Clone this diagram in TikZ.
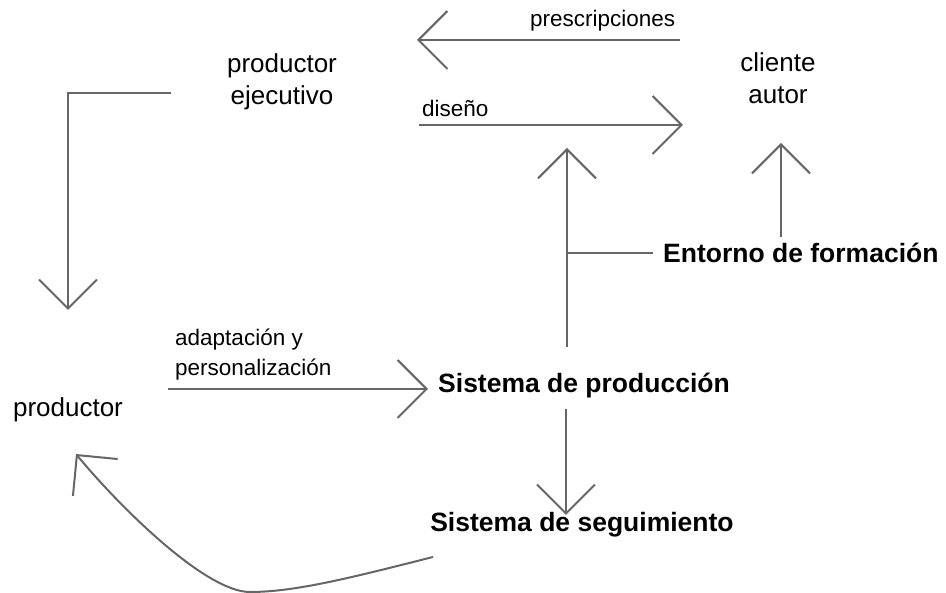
\documentclass[tikz,border=0pt]{standalone}
\usepackage{fontspec}
\setmainfont{Liberation Sans}
\usepackage{tikz}
\usetikzlibrary{arrows.meta}
\usepackage{xcolor}
\definecolor{linegray}{RGB}{102,102,102}

\begin{document}
\begin{tikzpicture}[x=1pt,y=1pt,
  flow/.style={draw=linegray, line width=2pt, -{Straight Barb[angle=90:41pt]}},
  plain/.style={draw=linegray, line width=2pt},
  actor/.style={align=center, inner sep=0pt, font=\fontsize{26}{32}\selectfont},
  system/.style={inner sep=0pt, font=\fontsize{26.5}{32}\selectfont\bfseries},
  tag/.style={align=left, inner sep=0pt, font=\fontsize{22.5}{30}\selectfont}]
  \useasboundingbox (0,0) rectangle (946,593);
  % texts
  \node[actor, anchor=north] (ejec) at (282,540) {productor\\ejecutivo};
  \node[actor, anchor=north] (cliente) at (778,541) {cliente\\autor};
  \node[actor, anchor=base] (productor) at (68,176) {productor};
  \node[system, anchor=base] (prod) at (584,200) {Sistema de producción};
  \node[system, anchor=base] (segui) at (582,61) {Sistema de seguimiento};
  \node[system, anchor=base west] (entorno) at (663,330) {Entorno de formación};
  \node[tag, anchor=base west] (prescr) at (530,566) {prescripciones};
  \node[tag, anchor=base west] (diseno) at (422,476) {diseño};
  \node[tag, anchor=north west] (adapt) at (175,264) {adaptación y\\personalización};
  % ends of the connectors
  \coordinate (pre-a) at (680,553);  \coordinate (pre-b) at (417,553);
  \coordinate (dis-a) at (419,468);  \coordinate (dis-b) at (683,468);
  \coordinate (ej-a) at (171,500);   \coordinate (ej-b) at (68,283);
  \coordinate (ad-a) at (168,204);   \coordinate (ad-b) at (428,204);
  \coordinate (pr-a) at (567,246);   \coordinate (pr-b) at (567,445);
  \coordinate (pr-c) at (567,340);   \coordinate (en-a) at (653,340);
  \coordinate (cl-a) at (781,356);   \coordinate (cl-b) at (781,450);
  \coordinate (sg-a) at (566,184);   \coordinate (sg-b) at (566,78);
  \coordinate (rt-a) at (433,36);    \coordinate (rt-m) at (250,1);
  \coordinate (rt-b) at (76,139);
  % connectors
  \draw[flow] (pre-a) -- (pre-b);
  \draw[flow] (dis-a) -- (dis-b);
  \draw[flow] (ej-a) -| (ej-b);
  \draw[flow] (ad-a) -- (ad-b);
  \draw[flow] (pr-a) -- (pr-b);
  \draw[plain] (pr-c) -- (en-a);
  \draw[flow] (cl-a) -- (cl-b);
  \draw[flow] (sg-a) -- (sg-b);
  \draw[flow] (rt-a) .. controls (350,15) and (295,1) .. (rt-m)
    .. controls (205,1) and (118,88) .. (rt-b);
\end{tikzpicture}
\end{document}
